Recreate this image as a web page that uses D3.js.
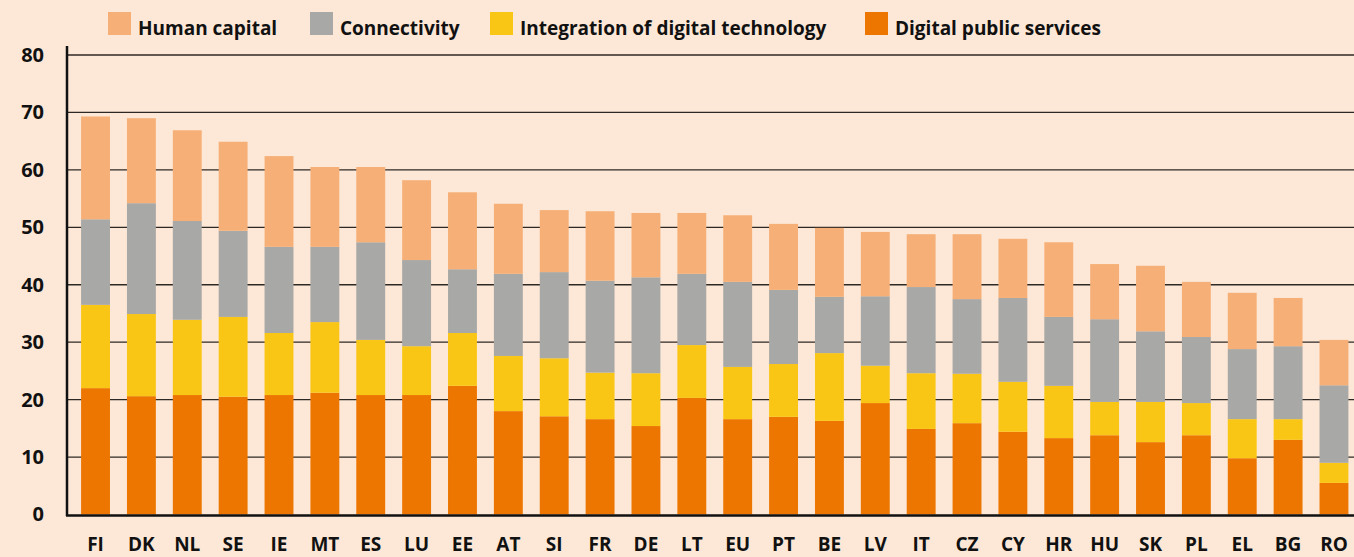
<!DOCTYPE html>
<html><head><meta charset="utf-8">
<script src="https://cdn.jsdelivr.net/npm/d3@7"></script>
<style>
html,body{margin:0;padding:0;background:#fde8d7;}
svg{display:block;}
text{font-family:"Open Sans",Lato,sans-serif;font-weight:700;fill:#111;}
</style></head>
<body>
<svg id="chart" width="1354" height="557"></svg>
<script>
const countries = ["FI","DK","NL","SE","IE","MT","ES","LU","EE","AT","SI","FR","DE","LT","EU","PT","BE","LV","IT","CZ","CY","HR","HU","SK","PL","EL","BG","RO"];
const digitalPublicServices = [22.0,20.6,20.8,20.5,20.8,21.2,20.8,20.8,22.4,18.0,17.1,16.6,15.4,20.3,16.6,17.0,16.3,19.4,14.9,15.9,14.4,13.3,13.8,12.6,13.8,9.8,13.0,5.5];
const integrationDigitalTech = [14.5,14.3,13.1,13.9,10.8,12.3,9.6,8.5,9.2,9.6,10.1,8.1,9.2,9.2,9.1,9.2,11.8,6.5,9.7,8.6,8.7,9.1,5.8,7.0,5.6,6.8,3.6,3.5];
const connectivity = [14.9,19.3,17.2,15.0,15.0,13.1,17.0,15.0,11.1,14.3,15.0,16.0,16.7,12.4,14.8,12.9,9.8,12.1,15.0,13.0,14.6,12.0,14.4,12.3,11.5,12.2,12.7,13.5];
const humanCapital = [17.9,14.8,15.8,15.5,15.8,13.9,13.1,13.9,13.4,12.2,10.8,12.1,11.2,10.6,11.6,11.5,12.0,11.2,9.2,11.3,10.3,13.0,9.6,11.4,9.6,9.8,8.4,7.9];
const yTicks = [0,10,20,30,40,50,60,70,80];
const seriesNames = ["Human capital","Connectivity","Integration of digital technology","Digital public services"];
const seriesColors = ["#f6b077","#a8a8a6","#fac615","#ed7601"];

const svg = d3.select("#chart");
const keys = ["dps","idt","conn","hc"];
const rows = countries.map((c,i)=>({c, dps:digitalPublicServices[i], idt:integrationDigitalTech[i], conn:connectivity[i], hc:humanCapital[i]}));
const colorOf = {dps:seriesColors[3], idt:seriesColors[2], conn:seriesColors[1], hc:seriesColors[0]};

const x = d3.scaleBand().domain(countries).range([72.6,1356.9]).paddingInner(0.37).paddingOuter(0.185);
const y = d3.scaleLinear().domain([0,80]).range([514.5,55]);

// gridlines
svg.append("g").selectAll("line").data(yTicks.filter(t=>t>0)).join("line")
  .attr("x1",67).attr("x2",1354).attr("y1",d=>y(d)).attr("y2",d=>y(d))
  .attr("stroke","#2e2825").attr("stroke-width",1.3);

const stack = d3.stack().keys(keys)(rows);
svg.append("g").selectAll("g").data(stack).join("g")
  .attr("fill",d=>colorOf[d.key])
  .selectAll("rect").data(d=>d).join("rect")
  .attr("x",d=>x(d.data.c)).attr("width",x.bandwidth())
  .attr("y",d=>y(d[1])).attr("height",d=>y(d[0])-y(d[1]));

const fontStyle = sel => sel.style("font-family","'Open Sans', Lato, sans-serif").style("font-weight","700").attr("fill","#111");

// y axis
const yAxis = svg.append("g").attr("transform","translate(67,0)")
  .call(d3.axisLeft(y).tickValues(yTicks).tickSize(0).tickPadding(23));
yAxis.select(".domain").attr("stroke","#111").attr("stroke-width",2.5).attr("d","M0,46V516");
yAxis.selectAll("text").style("font-size","20px").call(fontStyle);

// baseline
svg.append("line").attr("x1",66).attr("x2",1354).attr("y1",515.5).attr("y2",515.5)
  .attr("stroke","#111").attr("stroke-width",2.5);

// x axis labels
const xAxis = svg.append("g").attr("transform","translate(0,515)")
  .call(d3.axisBottom(x).tickSize(0).tickPadding(0));
xAxis.select(".domain").remove();
xAxis.selectAll("text").attr("y",36).attr("dy",null).style("font-size","19px").call(fontStyle);

// legend
const legendX = [108,310,490,865];
const lg = svg.append("g").selectAll("g").data(seriesNames).join("g")
  .attr("transform",(d,i)=>`translate(${legendX[i]},12)`);
lg.append("rect").attr("width",23).attr("height",23).attr("fill",(d,i)=>seriesColors[i]);
lg.append("text").attr("x",30).attr("y",22.5).style("font-size","19px").call(fontStyle).text(d=>d);
</script>
</body></html>
